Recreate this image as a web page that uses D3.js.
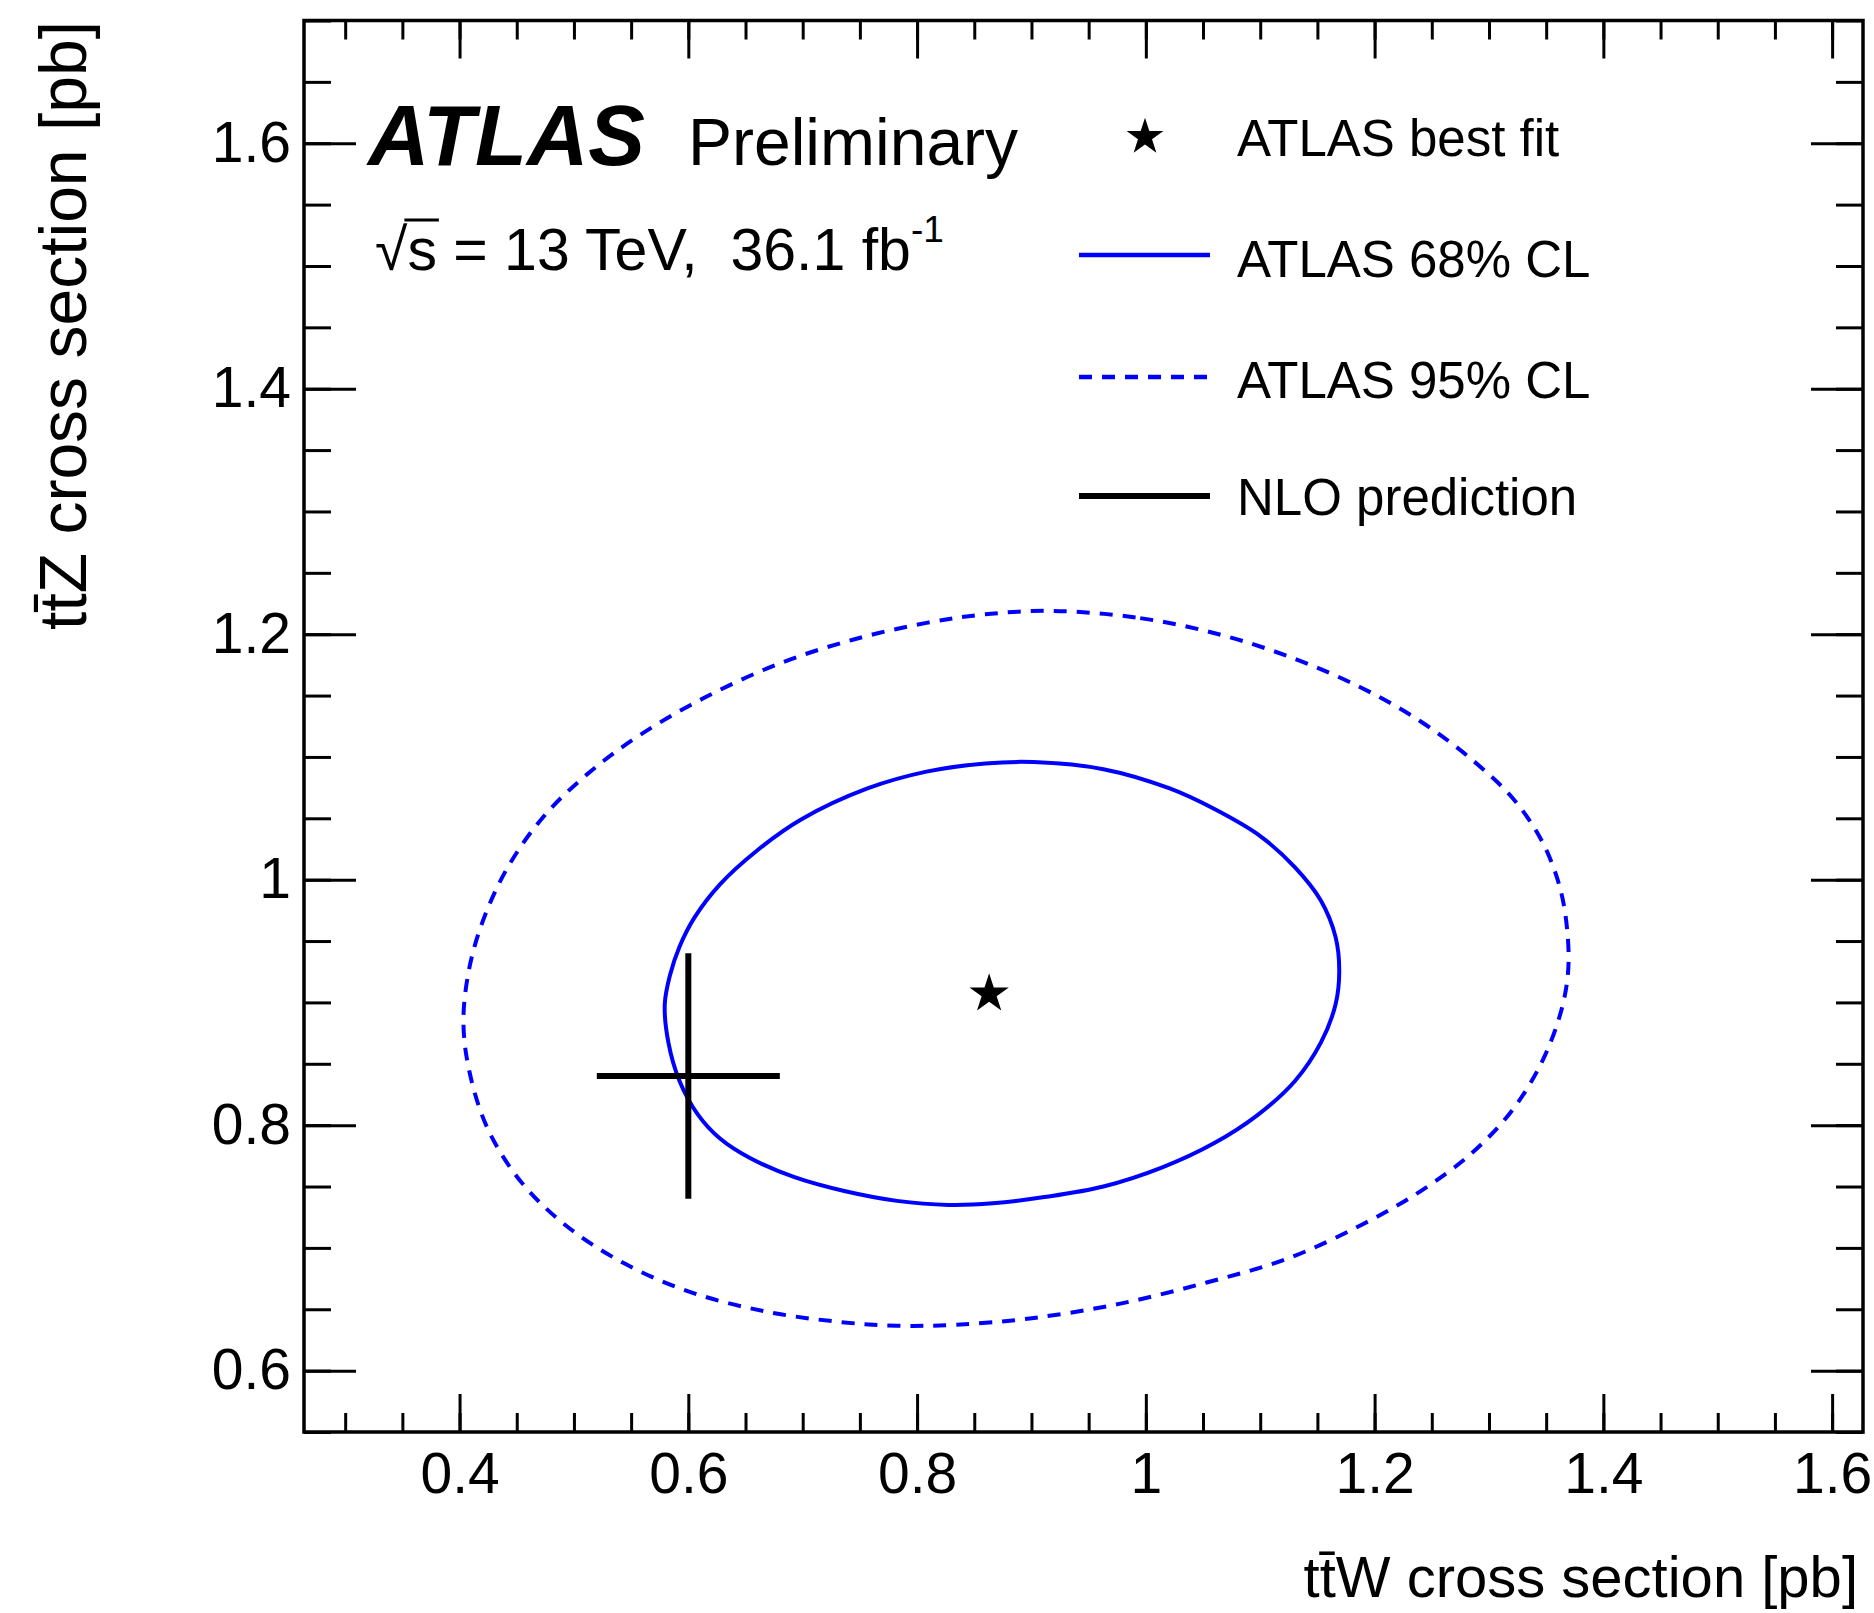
<!DOCTYPE html>
<html>
<head>
<meta charset="utf-8">
<script src="https://cdn.jsdelivr.net/npm/d3@7"></script>
<style>
  body { margin: 0; background: #fff; }
  text { font-family: "Liberation Sans", Arial, Helvetica, sans-serif; fill: #000; }
</style>
</head>
<body>
<svg id="chart" width="1874" height="1613"></svg>
<script>
// axis ranges and tick labels
var xDomain = [0.264, 1.627];
var yDomain = [0.55, 1.7];
var xTicks = [0.4, 0.6, 0.8, 1.0, 1.2, 1.4, 1.6];
var yTicks = [0.6, 0.8, 1.0, 1.2, 1.4, 1.6];

// best fit point (ttW, ttZ)
var bestFit = [0.863, 0.907];

// NLO prediction: central value and band
var nloCenter = [0.60, 0.84];
var nloXRange = [0.52, 0.68];
var nloYRange = [0.74, 0.94];

// 68% CL contour (ttW, ttZ)
var cl68 = [
  [0.9016, 1.0958], [0.9629, 1.0900], [1.0209, 1.0743], [1.0600, 1.0575],
  [1.1000, 1.0355], [1.1304, 1.0100], [1.1530, 0.9830], [1.1659, 0.9532],
  [1.1691, 0.9259], [1.1659, 0.8985], [1.1530, 0.8672], [1.1304, 0.8360],
  [1.0982, 0.8086], [1.0595, 0.7852], [1.0144, 0.7656], [0.9629, 0.7500],
  [0.9113, 0.7414], [0.8662, 0.7363], [0.8275, 0.7350], [0.7824, 0.7383],
  [0.7373, 0.7461], [0.6922, 0.7578], [0.6535, 0.7734], [0.6277, 0.7891],
  [0.6084, 0.8086], [0.5923, 0.8360], [0.5826, 0.8672], [0.5794, 0.8985],
  [0.5839, 0.9220], [0.5923, 0.9454], [0.6052, 0.9689], [0.6277, 0.9962],
  [0.6599, 1.0236], [0.6986, 1.0490], [0.7566, 1.0743], [0.8082, 1.0880],
  [0.8597, 1.0947]
];

// 95% CL contour (ttW, ttZ)
var cl95 = [
  [0.9177, 1.2190], [0.9951, 1.2131], [1.0660, 1.1994], [1.1304, 1.1799],
  [1.1884, 1.1564], [1.2400, 1.1291], [1.2851, 1.0978], [1.3206, 1.0665],
  [1.3463, 1.0314], [1.3624, 0.9923], [1.3689, 0.9532], [1.3689, 0.9219],
  [1.3624, 0.8907], [1.3463, 0.8516], [1.3206, 0.8125], [1.2851, 0.7773],
  [1.2400, 0.7461], [1.1884, 0.7187], [1.1240, 0.6913], [1.0531, 0.6718],
  [0.9757, 0.6542], [0.8984, 0.6425], [0.8339, 0.6374], [0.7824, 0.6366],
  [0.7308, 0.6398], [0.6664, 0.6484], [0.6019, 0.6640], [0.5439, 0.6874],
  [0.4924, 0.7187], [0.4537, 0.7539], [0.4247, 0.7969], [0.4086, 0.8437],
  [0.4034, 0.8829], [0.4073, 0.9219], [0.4183, 0.9610], [0.4408, 1.0079],
  [0.4730, 1.0509], [0.5117, 1.0860], [0.5568, 1.1173], [0.6148, 1.1486],
  [0.6793, 1.1760], [0.7437, 1.1955], [0.8082, 1.2092], [0.8597, 1.2162]
];

var legendLabels = ["ATLAS best fit", "ATLAS 68% CL", "ATLAS 95% CL", "NLO prediction"];

var blue = "#0000ff";

var svg = d3.select("#chart"),
  margin = {top: 20.5, right: 11, bottom: 181, left: 304},
  width = +svg.attr("width") - margin.left - margin.right,
  height = +svg.attr("height") - margin.top - margin.bottom,
  g = svg.append("g").attr("transform", "translate(" + margin.left + "," + margin.top + ")");

var x = d3.scaleLinear().domain(xDomain).range([0, width]);
var y = d3.scaleLinear().domain(yDomain).range([height, 0]);

var fmt = d3.format("~g");
var xMinor = d3.range(6, 33).map(function(i) { return i * 0.05; });
var yMinor = d3.range(11, 35).map(function(i) { return i * 0.05; });

// ticks inside the frame on all four sides
var styleAxis = function(sel) {
  sel.select(".domain").remove();
  sel.selectAll(".tick line").attr("stroke", "#000").attr("stroke-width", 3);
  sel.selectAll("text").attr("font-size", 57).attr("fill", "#000")
    .attr("font-family", "'Liberation Sans', Arial, sans-serif");
};

g.append("g").attr("transform", "translate(0," + height + ")")
  .call(d3.axisBottom(x).tickValues(xMinor).tickSize(-19).tickFormat(""))
  .call(styleAxis);
g.append("g").attr("transform", "translate(0," + height + ")")
  .call(d3.axisBottom(x).tickValues(xTicks).tickSize(-38).tickPadding(21).tickFormat(fmt))
  .call(styleAxis);
g.append("g")
  .call(d3.axisTop(x).tickValues(xMinor).tickSize(-19).tickFormat(""))
  .call(styleAxis);
g.append("g")
  .call(d3.axisTop(x).tickValues(xTicks).tickSize(-38).tickFormat(""))
  .call(styleAxis);

g.append("g")
  .call(d3.axisLeft(y).tickValues(yMinor).tickSize(-27).tickFormat(""))
  .call(styleAxis);
g.append("g")
  .call(d3.axisLeft(y).tickValues(yTicks).tickSize(-52).tickPadding(13).tickFormat(fmt))
  .call(styleAxis);
g.append("g").attr("transform", "translate(" + width + ",0)")
  .call(d3.axisRight(y).tickValues(yMinor).tickSize(-27).tickFormat(""))
  .call(styleAxis);
g.append("g").attr("transform", "translate(" + width + ",0)")
  .call(d3.axisRight(y).tickValues(yTicks).tickSize(-52).tickFormat(""))
  .call(styleAxis);

// frame
g.append("rect")
  .attr("width", width).attr("height", height)
  .attr("fill", "none").attr("stroke", "#000").attr("stroke-width", 3.5);

// contours
var contour = d3.line()
  .x(function(d) { return x(d[0]); })
  .y(function(d) { return y(d[1]); })
  .curve(d3.curveCatmullRomClosed.alpha(0.5));

g.append("path")
  .datum(cl95)
  .attr("fill", "none")
  .attr("stroke", blue)
  .attr("stroke-width", 4)
  .attr("stroke-dasharray", "13,10")
  .attr("d", contour);

g.append("path")
  .datum(cl68)
  .attr("fill", "none")
  .attr("stroke", blue)
  .attr("stroke-width", 4)
  .attr("d", contour);

// NLO cross
g.append("line")
  .attr("x1", x(nloXRange[0])).attr("x2", x(nloXRange[1]))
  .attr("y1", y(nloCenter[1])).attr("y2", y(nloCenter[1]))
  .attr("stroke", "#000").attr("stroke-width", 6);
g.append("line")
  .attr("x1", x(nloCenter[0])).attr("x2", x(nloCenter[0]))
  .attr("y1", y(nloYRange[0])).attr("y2", y(nloYRange[1]))
  .attr("stroke", "#000").attr("stroke-width", 6);

// best fit star
var star = d3.symbol().type(d3.symbolStar).size(480);
g.append("path")
  .attr("d", star)
  .attr("transform", "translate(" + x(bestFit[0]) + "," + y(bestFit[1]) + ")")
  .attr("fill", "#000");

// axis titles
svg.append("text")
  .attr("x", 1858).attr("y", 1597)
  .attr("text-anchor", "end")
  .attr("font-size", 58)
  .text("tt\u0304W cross section [pb]");

svg.append("text")
  .attr("transform", "translate(86,21) rotate(-90)")
  .attr("text-anchor", "end")
  .attr("font-size", 66)
  .text("tt\u0304Z cross section [pb]");

// ATLAS label
svg.append("text")
  .attr("x", 368).attr("y", 165)
  .attr("font-size", 85)
  .attr("font-weight", "bold")
  .attr("font-style", "italic")
  .text("ATLAS");
svg.append("text")
  .attr("x", 688).attr("y", 165)
  .attr("font-size", 66)
  .text("Preliminary");

var lumi = svg.append("text")
  .attr("x", 375).attr("y", 270)
  .attr("font-size", 59)
  .style("white-space", "pre");
lumi.append("tspan").text("\u221As = 13 TeV,  36.1 fb");
lumi.append("tspan").attr("font-size", 37).attr("dy", -28).text("-1");
var lumiNode = lumi.node();
var sx0 = lumiNode.getStartPositionOfChar(1).x,
    sx1 = lumiNode.getEndPositionOfChar(1).x;
svg.append("line")
  .attr("x1", sx0 - 3).attr("x2", sx1 + 2)
  .attr("y1", 220).attr("y2", 220)
  .attr("stroke", "#000").attr("stroke-width", 3);

// legend
var legY = [137, 255, 377, 496];
var legTextY = [156, 277, 398, 515];
var leg = svg.append("g");

leg.append("path")
  .attr("d", d3.symbol().type(d3.symbolStar).size(420))
  .attr("transform", "translate(1145," + legY[0] + ")")
  .attr("fill", "#000");
leg.append("line")
  .attr("x1", 1079).attr("x2", 1210).attr("y1", legY[1]).attr("y2", legY[1])
  .attr("stroke", blue).attr("stroke-width", 4.5);
leg.append("line")
  .attr("x1", 1079).attr("x2", 1210).attr("y1", legY[2]).attr("y2", legY[2])
  .attr("stroke", blue).attr("stroke-width", 4.5).attr("stroke-dasharray", "13,10");
leg.append("line")
  .attr("x1", 1079).attr("x2", 1210).attr("y1", legY[3]).attr("y2", legY[3])
  .attr("stroke", "#000").attr("stroke-width", 6);

leg.selectAll(".legtext")
  .data(legendLabels)
  .enter()
  .append("text")
  .attr("class", "legtext")
  .attr("x", 1237)
  .attr("y", function(d, i) { return legTextY[i]; })
  .attr("font-size", 51)
  .text(function(d) { return d; });
</script>
</body>
</html>
